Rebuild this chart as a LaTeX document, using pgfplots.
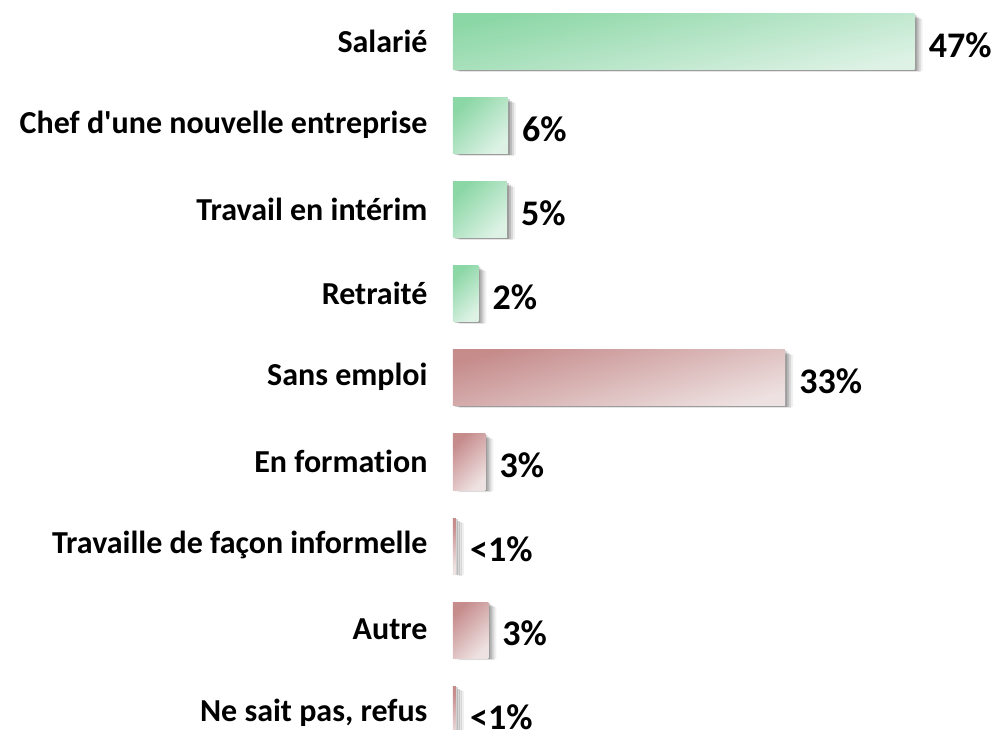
\documentclass[border=0pt]{standalone}
\usepackage{fontspec}
\setmainfont{Carlito}[Ligatures={TeXOff,NoCommon}]
\usepackage{pgfplots}
\pgfplotsset{compat=1.18}
\definecolor{gA}{HTML}{8CD7A6}
\definecolor{gB}{HTML}{DDF2E5}
\definecolor{rA}{HTML}{C68C8C}
\definecolor{rB}{HTML}{EEE1E1}
\pgfplotstableread{
x    y  lab
47.1 0  47\%
5.6  1  6\%
5.5  2  5\%
2.6  3  2\%
33.9 4  33\%
3.3  5  3\%
0.3  6  <1\%
3.6  7  3\%
0.3  8  <1\%
}\datatable
\pgfplotsset{
    gbar/.style={draw=none,left color=gA,right color=gB,shading angle=#1},
    gbar/.default=45,
    rbar/.style={draw=none,left color=rA,right color=rB,shading angle=#1},
    rbar/.default=45,
    shad/.style={draw=none,fill=black,fill opacity=#1,nodes near coords=\empty,forget plot},
}

\begin{document}
\begin{tikzpicture}
\begin{axis}[
    name=ax,
    scale only axis,
    width=490pt, height=756pt,
    xmin=0, xmax=50,
    ymin=-0.5, ymax=8.5,
    y dir=reverse,
    xbar, bar width=56pt, bar shift=0pt,
    hide x axis,
    axis y line*=left,
    y axis line style={draw=none},
    tick style={draw=none},
    major tick length=0pt,
    ytick={0,1,2,3,4,5,6,7,8},
    yticklabels={Salarié,Chef d'une nouvelle entreprise,Travail en intérim,Retraité,Sans emploi,En formation,Travaille de façon informelle,Autre,{Ne sait pas, refus}},
    yticklabel style={font=\fontsize{32}{36}\selectfont\bfseries,text=black,xshift=-22pt,yshift=1pt},
    clip=false,
]
% soft shadow, right and below each bar
\addplot[shad=0.06,xshift=8pt,yshift=-3pt,bar width=52pt] table[x=x,y=y] {\datatable};
\addplot[shad=0.10,xshift=6pt,yshift=-3pt,bar width=54pt] table[x=x,y=y] {\datatable};
\addplot[shad=0.14,xshift=4pt,yshift=-2pt,bar width=54pt] table[x=x,y=y] {\datatable};
\addplot[shad=0.16,xshift=2pt,yshift=-1pt,bar width=56pt] table[x=x,y=y] {\datatable};
% bars, one by one so that each has its own shading
\addplot[gbar=12] table[x=x,y=y,skip coords between index={1}{9}] {\datatable};
\addplot[gbar] table[x=x,y=y,skip coords between index={0}{1},skip coords between index={2}{9}] {\datatable};
\addplot[gbar] table[x=x,y=y,skip coords between index={0}{2},skip coords between index={3}{9}] {\datatable};
\addplot[gbar] table[x=x,y=y,skip coords between index={0}{3},skip coords between index={4}{9}] {\datatable};
\addplot[rbar=15] table[x=x,y=y,skip coords between index={0}{4},skip coords between index={5}{9}] {\datatable};
\addplot[rbar] table[x=x,y=y,skip coords between index={0}{5},skip coords between index={6}{9}] {\datatable};
\addplot[rbar] table[x=x,y=y,skip coords between index={0}{6},skip coords between index={7}{9}] {\datatable};
\addplot[rbar] table[x=x,y=y,skip coords between index={0}{7},skip coords between index={8}{9}] {\datatable};
\addplot[rbar] table[x=x,y=y,skip coords between index={0}{8}] {\datatable};
% value labels
\addplot[draw=none,fill=none,
    nodes near coords,
    point meta=explicit symbolic,
    every node near coord/.append style={font=\fontsize{36}{40}\selectfont\bfseries,text=black,anchor=west,inner sep=0pt,xshift=14pt,yshift=-3pt},
] table[x=x,y=y,meta=lab] {\datatable};
\end{axis}
\pgfresetboundingbox
\path[use as bounding box] ([xshift=-453pt]ax.north west) rectangle ([xshift=546pt,yshift=-730pt]ax.north west);
\end{tikzpicture}
\end{document}
